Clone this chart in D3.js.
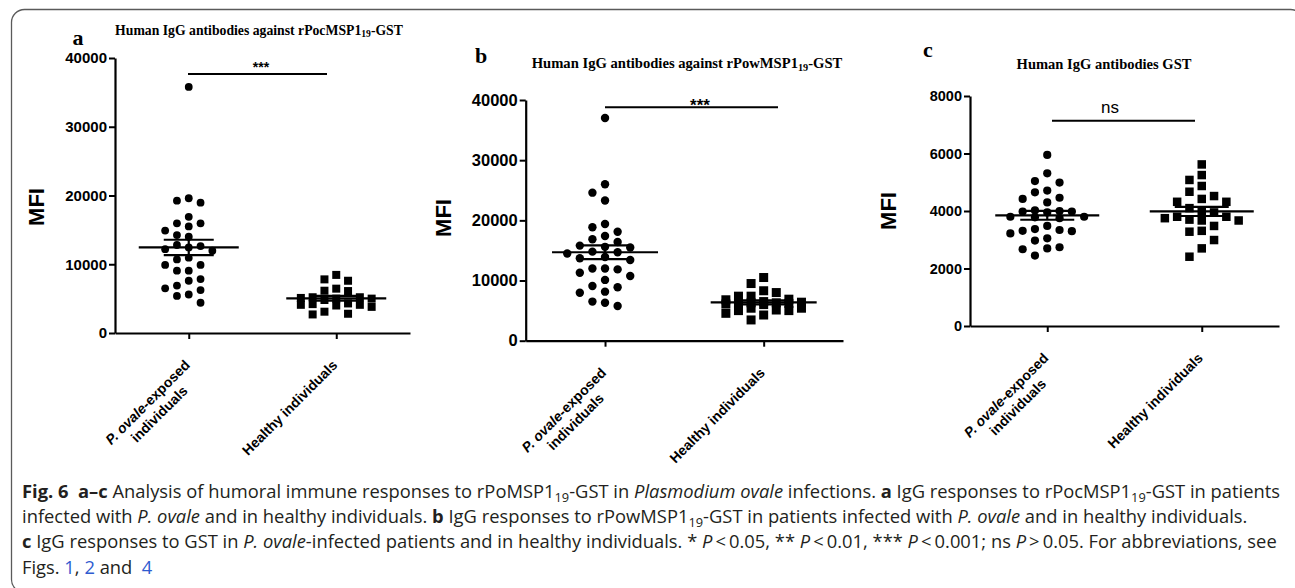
<!DOCTYPE html>
<html><head><meta charset="utf-8">
<script src="https://cdn.jsdelivr.net/npm/d3@7"></script>
<style>body{margin:0;background:#fff} svg{display:block}</style>
</head><body><svg id="chart" width="1295" height="588"></svg>
<script>
// ---------------- DATA ----------------
const categories = ["P. ovale-exposed individuals", "Healthy individuals"];
const panelLetters = ["a", "b", "c"];
const panelTitles = [
  ["Human IgG antibodies against rPocMSP1", "19", "-GST"],
  ["Human IgG antibodies against rPowMSP1", "19", "-GST"],
  ["Human IgG antibodies GST"]
];
const yTicksAB = [0, 10000, 20000, 30000, 40000];
const yTicksC = [0, 2000, 4000, 6000, 8000];
const yLabel = "MFI";
const sigLabels = ["***", "***", "ns"];

const exposedA = [35800,19600,19250,18950,16900,15950,15950,15500,14900,14250,14000,12800,12650,12450,12200,11970,10950,10700,9900,9900,9070,9070,7850,7600,6900,6500,6250,5600,5400,4400];
const healthyA = [8450,7800,7600,6450,6150,6100,5200,5200,5100,5000,5000,4800,4300,4200,4100,4100,4000,3800,3100,2800,2700];
const exposedB = [37000,26000,24600,23300,19400,18850,18100,17400,16850,16400,15800,15600,15500,14800,14700,14500,13900,13700,13400,12000,12000,11850,11300,10750,10100,9100,8870,8150,7980,6500,6300,5770];
const healthyB = [10500,9500,8300,8000,7400,7400,6900,6800,6500,6400,6300,6300,6200,6200,6100,6000,5400,5400,5100,5000,5000,4550,4270,3450];
const exposedC = [5950,5310,5040,4990,4710,4650,4460,4420,4300,4020,4000,3980,3980,3950,3800,3800,3780,3750,3480,3370,3340,3310,3300,3220,3050,2970,2740,2700,2670,2450];
const healthyC = [5620,5250,5080,4870,4670,4520,4420,4320,4320,4100,4000,3950,3800,3800,3750,3700,3670,3670,3480,3310,3280,2990,2700,2410];

const captionLines = [
  [{t:"Fig. 6",b:1},{t:"  "},{t:"a–c",b:1},{t:" Analysis of humoral immune responses to rPoMSP1"},{t:"19",sub:1},{t:"-GST in "},{t:"Plasmodium ovale",i:1},{t:" infections. "},{t:"a",b:1},{t:" IgG responses to rPocMSP1"},{t:"19",sub:1},{t:"-GST in patients"}],
  [{t:"infected with "},{t:"P. ovale",i:1},{t:" and in healthy individuals. "},{t:"b",b:1},{t:" IgG responses to rPowMSP1"},{t:"19",sub:1},{t:"-GST in patients infected with "},{t:"P. ovale",i:1},{t:" and in healthy individuals."}],
  [{t:"c",b:1},{t:" IgG responses to GST in "},{t:"P. ovale",i:1},{t:"-infected patients and in healthy individuals. * "},{t:"P",i:1},{t:"\u2009<\u20090.05, ** "},{t:"P",i:1},{t:"\u2009<\u20090.01, *** "},{t:"P",i:1},{t:"\u2009<\u20090.001; ns "},{t:"P",i:1},{t:"\u2009>\u20090.05. For abbreviations, see"}],
  [{t:"Figs. "},{t:"1",link:1},{t:", "},{t:"2",link:1},{t:" and  "},{t:"4",link:1}]
];

// ---------------- LAYOUT ----------------
const SANS = "'Liberation Sans', Arial, sans-serif";
const SERIF = "'Liberation Serif', 'Times New Roman', serif";
const panels = [
  {data:[exposedA, healthyA], ticks:yTicksAB, max:40000, x0:115, x1:410, yTop:58, yBot:333, tickFs:15,
   mfi:[36,207], title:[259,34.5,288], letter:[72.5,45], sig:{x1:188,x2:327,y:74,tx:261,ty:72,fs:14,w:"bold"},
   r:3.9, sq:8, step:11.8, meanHW:50, semHW:25},
  {data:[exposedB, healthyB], ticks:yTicksAB, max:40000, x0:525.7, x1:843, yTop:100, yBot:340.7, tickFs:16.5,
   mfi:[443,218], title:[687,67.5,311], letter:[475,63.3], sig:{x1:605,x2:778,y:107.3,tx:700,ty:110.5,fs:17,w:"bold"},
   r:4.2, sq:9, step:12.6, meanHW:53, semHW:27},
  {data:[exposedC, healthyC], ticks:yTicksC, max:8000, x0:970, x1:1279, yTop:96, yBot:326, tickFs:14.5,
   mfi:[888,211], title:[1104,68.5,175], letter:[923,56.7], sig:{x1:1052,x2:1195,y:120.7,tx:1110,ty:112.7,fs:17,w:"normal"},
   r:4.1, sq:8.5, step:12.3, meanHW:52, semHW:27}
];

const svg = d3.select("#chart");

// frame
svg.append("rect").attr("x",11.5).attr("y",9.5).attr("width",1292).attr("height",583)
  .attr("rx",13).attr("fill","none").attr("stroke","#5a5a5a").attr("stroke-width",1.3);

// column-based scatter layout (like GraphPad dot plots)
function swarm(values, y, size) {
  const order = values.map((v,i)=>i).sort((a,b)=>values[b]-values[a]);
  const placed = [];
  const out = new Array(values.length);
  const gap = size * 1.2, maxCol = 3;
  const cols = [0];
  for (let c = 1; c <= maxCol; c++) cols.push(-c, c);
  order.forEach(i => {
    const py = y(values[i]);
    let best = null, bestD = -1;
    for (const col of cols) {
      const same = placed.filter(p => p.col === col);
      const d = same.length ? d3.min(same, p => Math.abs(p.y - py)) : Infinity;
      if (d >= gap) { best = col; bestD = d; break; }
      if (d > bestD) { bestD = d; best = col; }
    }
    placed.push({col: best, y: py});
    out[i] = {v: values[i], col: best, y: py};
  });
  return out;
}

panels.forEach((P, pi) => {
  const g = svg.append("g");
  const y = d3.scaleLinear().domain([0, P.max]).range([P.yBot, P.yTop]);
  const x = d3.scalePoint().domain(categories).range([P.x0, P.x1]).padding(0.5);

  // axes
  const ya = g.append("g").attr("transform", `translate(${P.x0},0)`)
    .call(d3.axisLeft(y).tickValues(P.ticks).tickSize(6).tickSizeOuter(0).tickPadding(2).tickFormat(d3.format("d")));
  ya.select(".domain").attr("stroke-width", 2.2).attr("stroke","#000");
  ya.selectAll(".tick line").attr("stroke-width", 2).attr("stroke","#000");
  ya.selectAll(".tick text").attr("font-family", SANS).attr("font-weight","bold")
    .attr("font-size", P.tickFs).attr("fill","#000");

  const xa = g.append("g").attr("transform", `translate(0,${P.yBot})`)
    .call(d3.axisBottom(x).tickSize(6).tickSizeOuter(0).tickFormat(""));
  xa.select(".domain").attr("stroke-width", 2.2).attr("stroke","#000");
  xa.selectAll(".tick line").attr("stroke-width", 2).attr("stroke","#000");

  // y label
  g.append("text").attr("transform", `translate(${P.mfi[0]},${P.mfi[1]}) rotate(-90)`)
    .attr("text-anchor","middle").attr("dy","0.36em")
    .attr("font-family", SANS).attr("font-weight","bold").attr("font-size", 22).text(yLabel);

  // x labels
  categories.forEach((cat, ci) => {
    const lg = g.append("g").attr("transform", `translate(${x(cat)+2},${P.yBot+33}) rotate(-45)`)
      .attr("font-family", SANS).attr("font-weight","bold").attr("font-size", 14);
    if (cat.startsWith("P. ovale")) {
      const t1 = lg.append("text").attr("text-anchor","end");
      t1.append("tspan").attr("font-style","italic").text("P. ovale");
      t1.append("tspan").text("-exposed");
      const w1 = t1.node().getComputedTextLength();
      lg.append("text").attr("text-anchor","middle").attr("x", -w1/2).attr("y", 16.5)
        .text(cat.replace("P. ovale-exposed ", ""));
    } else {
      lg.append("text").attr("text-anchor","end").text(cat);
    }
  });

  // title
  const tt = g.append("text").attr("x", P.title[0]).attr("y", P.title[1]).attr("text-anchor","middle")
    .attr("font-family", SERIF).attr("font-weight","bold").attr("font-size", 14);
  const parts = panelTitles[pi];
  tt.append("tspan").text(parts[0]);
  if (parts.length > 1) {
    tt.append("tspan").attr("font-size","70%").attr("dy","0.3em").text(parts[1]);
    tt.append("tspan").attr("dy","-0.21em").text(parts[2]);
  }
  const tw = tt.node().getComputedTextLength();
  tt.attr("font-size", 14 * P.title[2] / tw);

  // letter
  g.append("text").attr("x", P.letter[0]).attr("y", P.letter[1])
    .attr("font-family", SERIF).attr("font-weight","bold").attr("font-size", 22).text(panelLetters[pi]);

  // points
  P.data.forEach((vals, ci) => {
    const cx = x(categories[ci]);
    const size = ci === 0 ? P.r * 2 : P.sq;
    const pts = swarm(vals, y, size);
    if (ci === 0) {
      g.append("g").selectAll("circle").data(pts).join("circle")
        .attr("cx", d => cx + d.col * P.step).attr("cy", d => d.y).attr("r", P.r).attr("fill","#000");
    } else {
      g.append("g").selectAll("rect").data(pts).join("rect")
        .attr("x", d => cx + d.col * P.step - P.sq/2).attr("y", d => d.y - P.sq/2)
        .attr("width", P.sq).attr("height", P.sq).attr("fill","#000");
    }
    // mean +- SEM
    const m = d3.mean(vals), sem = d3.deviation(vals) / Math.sqrt(vals.length);
    const lines = [
      [cx - P.meanHW, y(m), cx + P.meanHW, y(m)],
      [cx - P.semHW, y(m+sem), cx + P.semHW, y(m+sem)],
      [cx - P.semHW, y(m-sem), cx + P.semHW, y(m-sem)],
      [cx, y(m+sem), cx, y(m-sem)]
    ];
    g.append("g").selectAll("line").data(lines).join("line")
      .attr("x1", d=>d[0]).attr("y1", d=>d[1]).attr("x2", d=>d[2]).attr("y2", d=>d[3])
      .attr("stroke","#000").attr("stroke-width", 2.2);
  });

  // significance
  g.append("line").attr("x1", P.sig.x1).attr("x2", P.sig.x2).attr("y1", P.sig.y).attr("y2", P.sig.y)
    .attr("stroke","#000").attr("stroke-width", 2);
  g.append("text").attr("x", P.sig.tx).attr("y", P.sig.ty).attr("text-anchor","middle")
    .attr("font-family", SANS).attr("font-weight", P.sig.w).attr("font-size", P.sig.fs).text(sigLabels[pi]);
});

// caption
const capBase = [497.5, 522.5, 547.5, 573.5];
const capFs = 18;
const capTexts = captionLines.map((segs, li) => {
  const t = svg.append("text").attr("x", 22).attr("y", capBase[li])
    .attr("font-family", "'Open Sans', 'Noto Sans', sans-serif").attr("font-size", capFs)
    .attr("fill", "#231f20").style("white-space","pre");
  let prevSub = false;
  segs.forEach(s => {
    const ts = t.append("tspan").text(s.t);
    if (s.b) ts.attr("font-weight","bold");
    if (s.i) ts.attr("font-style","italic");
    if (s.link) ts.attr("fill","#2f5bd0");
    if (s.sub) ts.attr("font-size","70%").attr("dy","0.35em");
    else if (prevSub) ts.attr("dy","-0.245em");
    prevSub = !!s.sub;
  });
  return t;
});
const natural = capTexts.map(t => t.node().getComputedTextLength());
const k = 1258 / natural[0];
capTexts.forEach((t, i) => t.attr("textLength", natural[i] * k).attr("lengthAdjust","spacingAndGlyphs"));
</script>
</body></html>
